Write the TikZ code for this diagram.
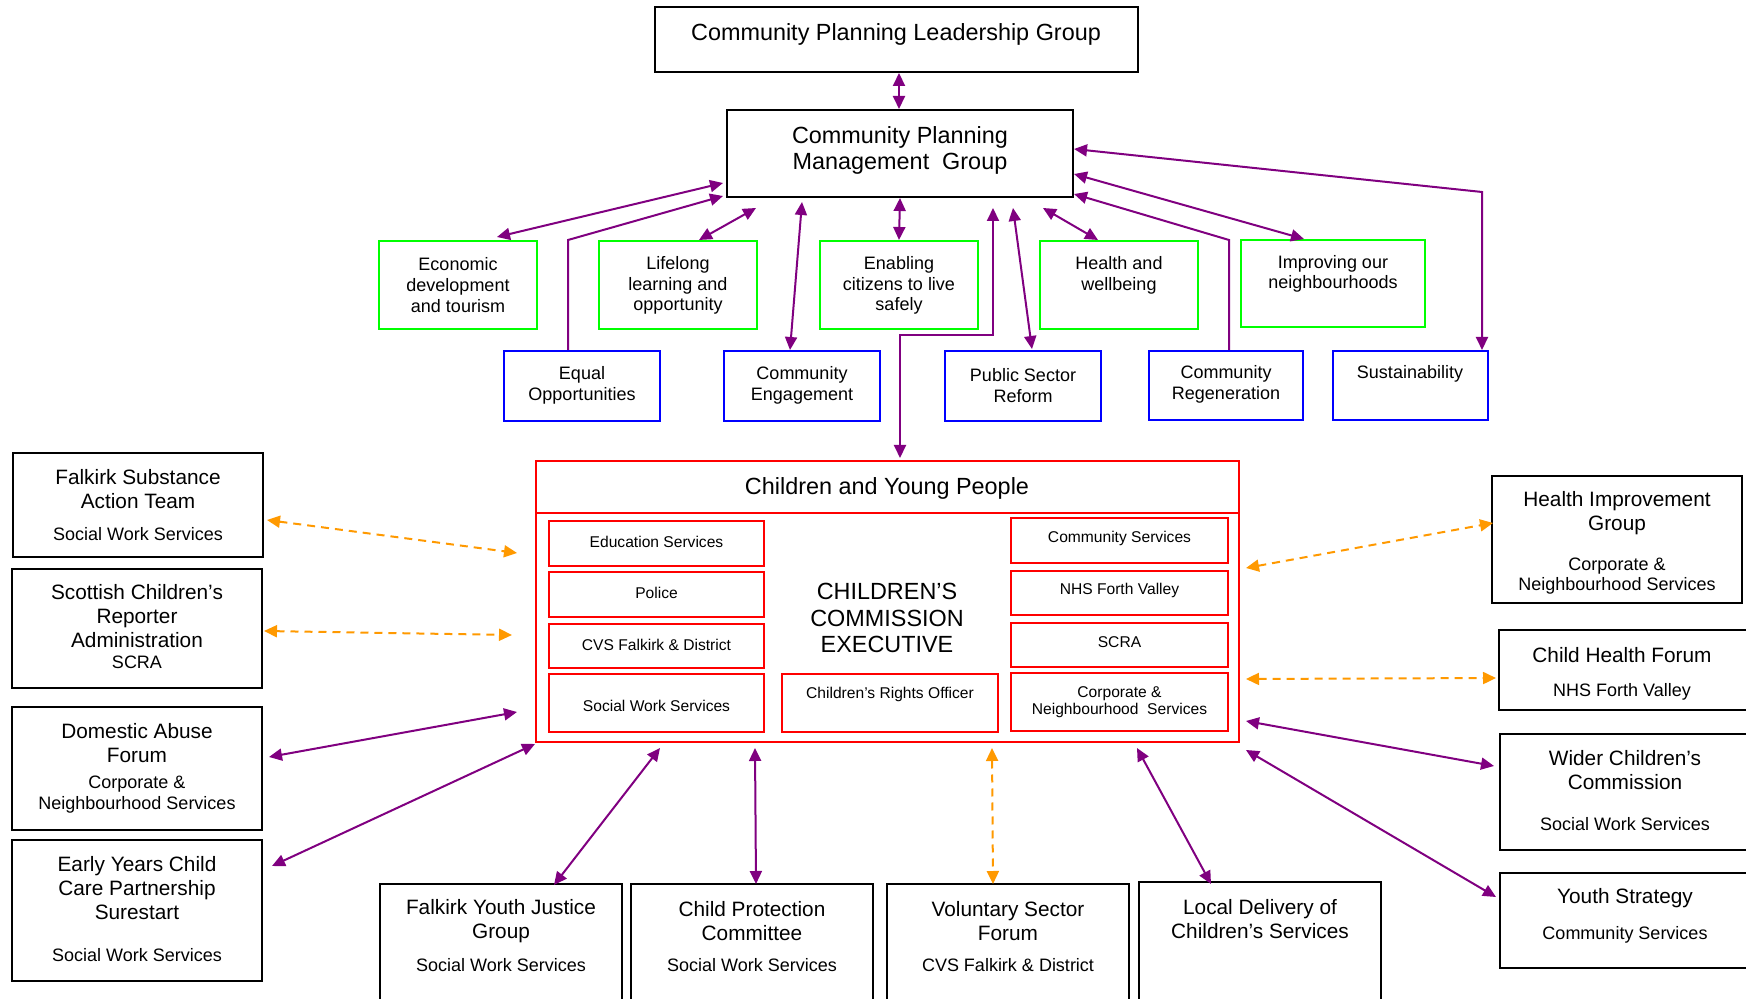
\documentclass[tikz,border=0pt]{standalone}
\usepackage{fontspec}
\setmainfont{Liberation Sans}
\usetikzlibrary{arrows.meta,fit,calc}
\definecolor{pur}{RGB}{128,0,128}
\definecolor{orn}{RGB}{255,153,0}
\definecolor{grn}{RGB}{0,255,0}
\definecolor{blu}{RGB}{0,0,255}
\definecolor{rd}{RGB}{255,0,0}
\begin{document}
\begin{tikzpicture}[x=0.5pt,y=-0.5pt,
 bx/.style={draw=black,line width=1pt,inner sep=0pt},
 gb/.style={draw=grn,line width=1pt,inner sep=0pt},
 bb/.style={draw=blu,line width=1pt,inner sep=0pt},
 rb/.style={draw=rd,line width=1pt,inner sep=0pt},
 txbig/.style={font=\fontsize{11.7}{13.4}\selectfont,align=center,inner sep=0pt},
 txttl/.style={font=\fontsize{10.4}{12}\selectfont,align=center,inner sep=0pt},
 txsub/.style={font=\fontsize{9}{10.3}\selectfont,align=center,inner sep=0pt},
 txsml/.style={font=\fontsize{9}{10.3}\selectfont,align=center,inner sep=0pt},
 txinr/.style={font=\fontsize{7.8}{8.6}\selectfont,align=center,inner sep=0pt},
 >={Triangle[length=6.5pt,width=6pt]},
 pa/.style={draw=pur,line width=1pt,<->},
 pa1/.style={draw=pur,line width=1pt,->},
 oa/.style={draw=orn,line width=1pt,dash pattern=on 4pt off 3pt,<->}]
\clip (0,0) rectangle (1746,999);
% top
\node[bx,fit={(655,7)(1138,72)}] (lead) {};
\node[txbig] (leadt) at (896,34.5) {Community Planning Leadership Group};
\node[bx,fit={(727,110)(1073,197)}] (mgmt) {};
\node[txbig] (mgmtt) at (900,150.5) {Community Planning\\Management~ Group};
% green
\node[gb,fit={(379,241)(537,329)}] (econ) {};
\node[txsml] (econt) at (458,285) {Economic\\development\\and tourism};
\node[gb,fit={(599,241)(757,329)}] (life) {};
\node[txsml] (lifet) at (678,285.5) {Lifelong\\learning and\\opportunity};
\node[gb,fit={(820,241)(978,329)}] (enab) {};
\node[txsml] (enabt) at (899,285.5) {Enabling\\citizens to live\\safely};
\node[gb,fit={(1040,241)(1198,329)}] (hlth) {};
\node[txsml] (hltht) at (1119,275.5) {Health and\\wellbeing};
\node[gb,fit={(1241,240)(1425,327)}] (impr) {};
\node[txsml] (imprt) at (1333,274) {Improving our\\neighbourhoods};
% blue
\node[bb,fit={(504,351)(660,421)}] (equal) {};
\node[txsml] (equalt) at (582,385.5) {Equal\\Opportunities};
\node[bb,fit={(724,351)(880,421)}] (ceng) {};
\node[txsml] (cengt) at (802,385.5) {Community\\Engagement};
\node[bb,fit={(945,351)(1101,421)}] (psr) {};
\node[txsml] (psrt) at (1023,385.5) {Public Sector\\Reform};
\node[bb,fit={(1149,351)(1303,420)}] (regen) {};
\node[txsml] (regent) at (1226,384.5) {Community\\Regeneration};
\node[bb,fit={(1333,351)(1488,420)}] (sust) {};
\node[txsml] (sustt) at (1410,374) {Sustainability};
% children and young people
\node[rb,fit={(536,461)(1239,513)}] (cyph) {};
\node[txbig] (cypht) at (887,488.5) {Children and Young People};
\node[rb,fit={(536,513)(1239,742)}] (cypb) {};
\node[rb,fit={(549,521)(764,566)}] (edu) {};
\node[txinr] (edut) at (656.5,541.5) {Education Services};
\node[rb,fit={(549,572)(764,617)}] (pol) {};
\node[txinr] (polt) at (656.5,592.5) {Police};
\node[rb,fit={(549,624)(764,668)}] (cvs) {};
\node[txinr] (cvst) at (656.5,644.5) {CVS Falkirk \& District};
\node[rb,fit={(549,674)(764,732)}] (sws) {};
\node[txinr] (swst) at (656.5,705.5) {Social Work Services};
\node[rb,fit={(782,674)(998,732)}] (cro) {};
\node[txinr] (crot) at (890,694.5) {Children’s Rights Officer};
\node[rb,fit={(1011,518)(1228,563)}] (cs) {};
\node[txinr] (cst) at (1119.5,538.5) {Community Services};
\node[rb,fit={(1011,571)(1228,615)}] (nhs) {};
\node[txinr] (nhst) at (1119.5,590.5) {NHS Forth Valley};
\node[rb,fit={(1011,623)(1228,667)}] (scra) {};
\node[txinr] (scrat) at (1119.5,642.5) {SCRA};
\node[rb,fit={(1011,673)(1228,731)}] (cns) {};
\node[txinr] (cnst) at (1119.5,702) {Corporate \&\\Neighbourhood~ Services};
\node[txbig] (cce) at (887,618) {CHILDREN’S\\COMMISSION\\EXECUTIVE};
% left
\node[bx,fit={(13,453)(263,557)}] (fsat) {};
\node[txttl] (fsatt) at (138,489) {Falkirk Substance\\Action Team};
\node[txsub] (fsats) at (138,534.5) {Social Work Services};
\node[bx,fit={(12,569)(262,688)}] (scrab) {};
\node[txttl] (scrabt) at (137,616.5) {Scottish Children’s\\Reporter\\Administration};
\node[txsub] (scrabs) at (137,662.5) {SCRA};
\node[bx,fit={(12,707)(262,830)}] (dafo) {};
\node[txttl] (dafot) at (137,743) {Domestic Abuse\\Forum};
\node[txsub] (dafos) at (137,794.5) {Corporate \&\\Neighbourhood Services};
\node[bx,fit={(12,840)(262,981)}] (eyc) {};
\node[txttl] (eyct) at (137,888.5) {Early Years Child\\Care Partnership\\Surestart};
\node[txsub] (eycs) at (137,955.5) {Social Work Services};
% bottom
\node[bx,fit={(380,884)(622,1010)}] (fyj) {};
\node[txttl] (fyjt) at (501,921.5) {Falkirk Youth Justice\\Group};
\node[txsub] (fyjs) at (501,965.5) {Social Work Services};
\node[bx,fit={(631,884)(873,1010)}] (cpc) {};
\node[txttl] (cpct) at (752,921) {Child Protection\\Committee};
\node[txsub] (cpcs) at (752,965.5) {Social Work Services};
\node[bx,fit={(887,884)(1129,1010)}] (vsf) {};
\node[txttl] (vsft) at (1008,921.5) {Voluntary Sector\\Forum};
\node[txsub] (vsfs) at (1008,965.5) {CVS Falkirk \& District};
\node[bx,fit={(1139,882)(1381,1010)}] (ldc) {};
\node[txttl] (ldct) at (1260,919.5) {Local Delivery of\\Children’s Services};
% right
\node[bx,fit={(1492,476)(1742,603)}] (hig) {};
\node[txttl] (higt) at (1617,513.5) {Health Improvement\\Group};
\node[txsub] (higs) at (1617,576) {Corporate \&\\Neighbourhood Services};
\node[bx,fit={(1499,630)(1752,710)}] (chf) {};
\node[txttl] (chft) at (1622,655.5) {Child Health Forum};
\node[txsub] (chfs) at (1622,692) {NHS Forth Valley};
\node[bx,fit={(1500,734)(1752,850)}] (wcc) {};
\node[txttl] (wcct) at (1625,770) {Wider Children’s\\Commission};
\node[txsub] (wccs) at (1625,824.5) {Social Work Services};
\node[bx,fit={(1500,873)(1752,968)}] (ys) {};
\node[txttl] (yst) at (1625,898) {Youth Strategy};
\node[txsub] (yss) at (1625,935) {Community Services};
% top connectors
\draw[pa] ([shift={(2.5,0)}]lead.south) -- ([shift={(-1,0)}]mgmt.north);
\draw[pa] (mgmt.south) -- (enab.north);
\draw[pa] ([shift={(-3,-15)}]mgmt.south west) -- ([shift={(39,-3)}]econ.north);
\draw[pa1] ([shift={(-14,0)}]equal.north) -- ++(0,-110) -- ([shift={(-3,-2)}]mgmt.south west);
\draw[pa] ([shift={(30,10)}]mgmt.south west) -- ([shift={(21,0)}]life.north);
\draw[pa] ([shift={(76,4)}]mgmt.south west) -- ([shift={(-12,0)}]ceng.north);
\draw[pa] ([shift={(12.5,-2)}]cyph.north) -- ++(0,-123) -| ([shift={(93,10)}]mgmt.south);
\draw[pa] ([shift={(113,10)}]mgmt.south) -- ([shift={(9,-1)}]psr.north);
\draw[pa] ([shift={(143,10)}]mgmt.south) -- ([shift={(-21,0)}]hlth.north);
\draw[pa1] ([shift={(3,0)}]regen.north) -- ++(0,-110) -- ([shift={(0,-4)}]mgmt.south east);
\draw[pa] ([shift={(0,-24)}]mgmt.south east) -- ([shift={(-29,0)}]impr.north);
\draw[pa] ([shift={(0,-49)}]mgmt.south east) -- ([shift={(71.5,-158)}]sust.north) -- ([shift={(71.5,0)}]sust.north);
% bottom connectors
\draw[oa] ([shift={(3,15)}]fsat.east) -- ([shift={(-18,-74.5)}]cypb.west);
\draw[oa] ([shift={(1,2.5)}]scrab.east) -- ([shift={(-23,7.5)}]cypb.west);
\draw[pa] ([shift={(6,-11.5)}]dafo.east) -- ([shift={(-18,84.5)}]cypb.west);
\draw[pa] ([shift={(9,-44.5)}]eyc.east) -- ([shift={(0,1)}]cypb.south west);
\draw[pa] ([shift={(125,5)}]cypb.south west) -- ([shift={(53,2)}]fyj.north);
\draw[pa] ([shift={(220,5)}]cypb.south west) -- ([shift={(4,1)}]cpc.north);
\draw[oa] ([shift={(457,5)}]cypb.south west) -- ([shift={(-15,1)}]vsf.north);
\draw[pa] ([shift={(-103,5)}]cypb.south east) -- ([shift={(-49,3)}]ldc.north);
\draw[pa] ([shift={(6,-22)}]cypb.south east) -- ([shift={(-5,-26)}]wcc.west);
\draw[pa] ([shift={(6,7)}]cypb.south east) -- ([shift={(-3,-23.5)}]ys.west);
\draw[oa] ([shift={(6,-64)}]cypb.south east) -- ([shift={(-2,8)}]chf.west);
\draw[oa] ([shift={(6,-175)}]cypb.south east) -- ([shift={(2,-16.5)}]hig.west);
\end{tikzpicture}
\end{document}
